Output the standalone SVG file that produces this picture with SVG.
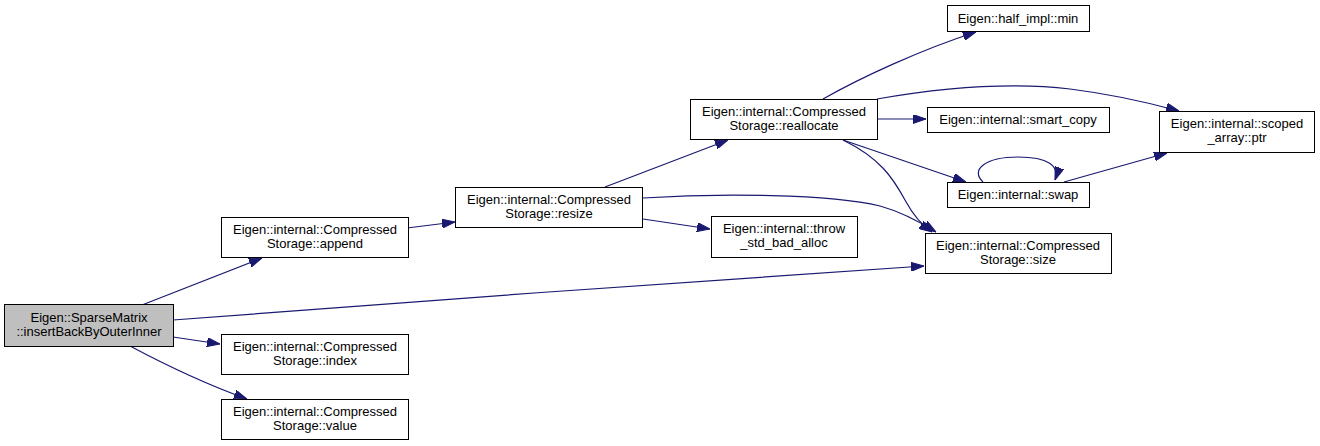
<svg xmlns="http://www.w3.org/2000/svg" width="1320" height="446" viewBox="0 0 1320 446">
<style>
.node rect{fill:#ffffff;stroke:#000000;stroke-width:1}
.node.main rect{fill:#bfbfbf;stroke:#000000}
.node text{font-family:"Liberation Sans",Arial,sans-serif;font-size:13px;fill:#000000;text-anchor:middle}
.edges path{fill:none;stroke:#191970;stroke-width:1.2;marker-end:url(#arr)}
</style>
<defs>
<marker id="arr" viewBox="0 0 13 9" refX="13" refY="4.5" markerWidth="13" markerHeight="9" markerUnits="userSpaceOnUse" orient="auto">
<path d="M0,0 L13,4.5 L0,9 z" fill="#191970" stroke="#191970"/>
</marker>
</defs>
<rect width="1320" height="446" fill="#ffffff"/>
<g class="edges" id="edges">
<path d="M142,305 L262,258"/>
<path d="M173,320 C 400,303 700,280 924,266"/>
<path d="M173,337 L220,344"/>
<path d="M130,346 C 160,362 200,382 247,399"/>
<path d="M407,228 L455,222"/>
<path d="M605,187 L728,140"/>
<path d="M643,219 L710,229"/>
<path d="M643,198 C 720,193 830,194 880,206 C 902,212 920,222 936,232"/>
<path d="M823,99 C 860,78 920,50 976,32"/>
<path d="M877,119 L926,119"/>
<path d="M877,99 C 940,88 1010,82 1070,89 C 1110,94 1150,103 1179,111"/>
<path d="M843,140 L966,182"/>
<path d="M843,140 C 880,158 893,178 905,200 C 912,213 920,224 932,232"/>
<path d="M983,182 C 970,170 985,157 1018,157 C 1048,157 1060,166 1055,180"/>
<path d="M1064,182 L1167,153"/>
</g>
<g class="node main" id="node_insertBack"><rect x="4.5" y="304.5" width="169" height="42"/><text x="89" y="322">Eigen::SparseMatrix</text><text x="89" y="336">::insertBackByOuterInner</text></g>
<g class="node" id="node_append"><rect x="221.5" y="217.5" width="187" height="40"/><text x="315" y="234">Eigen::internal::Compressed</text><text x="315" y="248">Storage::append</text></g>
<g class="node" id="node_index"><rect x="221.5" y="334.5" width="187" height="40"/><text x="315" y="351">Eigen::internal::Compressed</text><text x="315" y="365">Storage::index</text></g>
<g class="node" id="node_value"><rect x="221.5" y="399.5" width="187" height="40"/><text x="315" y="416">Eigen::internal::Compressed</text><text x="315" y="430">Storage::value</text></g>
<g class="node" id="node_resize"><rect x="455.5" y="187.5" width="187" height="40"/><text x="549" y="204">Eigen::internal::Compressed</text><text x="549" y="218">Storage::resize</text></g>
<g class="node" id="node_throw"><rect x="711.5" y="216.5" width="146" height="41"/><text x="784" y="233">Eigen::internal::throw</text><text x="784" y="247">_std_bad_alloc</text></g>
<g class="node" id="node_reallocate"><rect x="690.5" y="99.5" width="187" height="40"/><text x="784" y="116">Eigen::internal::Compressed</text><text x="784" y="130">Storage::reallocate</text></g>
<g class="node" id="node_min"><rect x="947.5" y="5.5" width="142" height="26"/><text x="1018" y="23">Eigen::half_impl::min</text></g>
<g class="node" id="node_smart_copy"><rect x="927.5" y="107.5" width="182" height="25"/><text x="1018" y="124">Eigen::internal::smart_copy</text></g>
<g class="node" id="node_scoped_ptr"><rect x="1159.5" y="111.5" width="155" height="41"/><text x="1237" y="128">Eigen::internal::scoped</text><text x="1237" y="142">_array::ptr</text></g>
<g class="node" id="node_swap"><rect x="947.5" y="182.5" width="142" height="25"/><text x="1018" y="199">Eigen::internal::swap</text></g>
<g class="node" id="node_size"><rect x="925.5" y="233.5" width="186" height="40"/><text x="1018" y="250">Eigen::internal::Compressed</text><text x="1018" y="264">Storage::size</text></g>
</svg>
